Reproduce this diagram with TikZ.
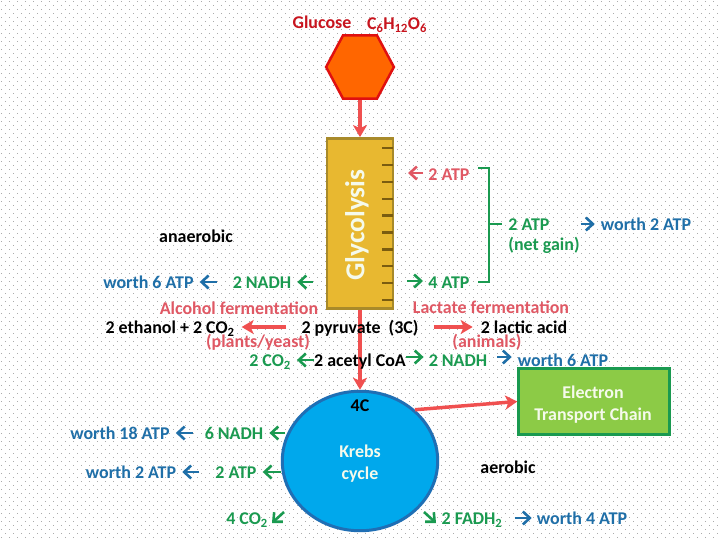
\documentclass[tikz,border=0pt]{standalone}
\usepackage{fontspec}
\setmainfont{Carlito}
\usetikzlibrary{positioning,shapes.geometric,arrows.meta,calc}
\definecolor{bluetxt}{RGB}{31,111,168}
\definecolor{greentxt}{RGB}{26,154,80}
\definecolor{pinktxt}{RGB}{224,88,100}
\definecolor{redline}{RGB}{240,80,80}
\definecolor{darkred}{RGB}{200,20,30}
\definecolor{hexfill}{RGB}{255,102,0}
\definecolor{hexline}{RGB}{224,16,16}
\definecolor{barfill}{RGB}{232,184,48}
\definecolor{barline}{RGB}{168,138,42}
\definecolor{tickcol}{RGB}{122,92,16}
\definecolor{krebsfill}{RGB}{0,168,236}
\definecolor{krebsline}{RGB}{31,111,181}
\definecolor{etcfill}{RGB}{140,203,70}
\definecolor{paleleaf}{RGB}{245,250,235}
\newcommand{\subtwo}{\textsubscript{2}}

\begin{document}
\begin{tikzpicture}[
    x=1bp, y=-1bp,
    lbl/.style={inner sep=0pt, text height=16pt, text depth=3pt, font=\fontsize{18}{21}\selectfont\bfseries},
    blacktxt/.style={lbl, text=black},
    bluelbl/.style={lbl, text=bluetxt},
    greenlbl/.style={lbl, text=greentxt},
    pinklbl/.style={lbl, text=pinktxt},
    redlbl/.style={lbl, text=darkred},
    whitelbl/.style={lbl, text=paleleaf},
    bigarrow/.style={draw=redline, line width=3.5pt, -{Stealth[length=12pt,width=14pt,inset=3pt]}},
    bluebarb/.style={draw=bluetxt, line width=2.6pt, -{Straight Barb[length=7pt,width=13pt]}},
    greenbarb/.style={draw=greentxt, line width=2.6pt, -{Straight Barb[length=7pt,width=13pt]}},
    pinkbarb/.style={draw=pinktxt, line width=2.6pt, -{Straight Barb[length=7pt,width=13pt]}},
    hexbox/.style={regular polygon, regular polygon sides=6, minimum size=68pt, yscale=1.08, transform shape, draw=hexline, fill=hexfill, line width=2.5pt, inner sep=0pt},
    barbox/.style={rectangle, draw=barline, fill=barfill, line width=2.5pt, minimum width=66pt, minimum height=171pt, inner sep=0pt},
    krebsbox/.style={ellipse, draw=krebsline, fill=krebsfill, line width=3pt, minimum width=156pt, minimum height=140pt, inner sep=0pt},
    etcbox/.style={rectangle, draw=greentxt, fill=etcfill, line width=3pt, minimum width=151pt, minimum height=66pt, inner sep=0pt}
]

\useasboundingbox (0,0) rectangle (720,540);
\fill[white] (0,0) rectangle (720,540);
% dotted paper
\foreach \row in {0,...,134} {
  \pgfmathsetmacro{\shift}{mod(\row,2)*4}
  \draw[black!33, line width=1bp, dash pattern=on 1bp off 7bp] ({\shift+1},{\row*4+1.5}) -- (720,{\row*4+1.5});
}

\node[hexbox] (glucosehex) at (360,67) {};
\node[barbox] (glybar) at (360,223.5) {};
\node[krebsbox] (krebs) at (360,461) {};
\node[etcbox] (etc) at (594,401.5) {};

\draw[bigarrow] (glucosehex) -- (glybar);
\draw[bigarrow] (glybar) -- (krebs);
\draw[bigarrow] (krebs.43) -- (etc.west);

\foreach \i in {0,...,9} {
  \draw[draw=tickcol, line width=2.4pt] (382,{148+\i*16.9}) -- (393,{148+\i*16.9});
}
\node[whitelbl, rotate=90, font=\fontsize{27.5}{30}\selectfont\bfseries] (glylbl) at (358,225) {Glycolysis};

\node[redlbl] (glucose) at (322,22) {Glucose};
\node[redlbl] (formula) at (397,23) {C\textsubscript{6}H\textsubscript{12}O\textsubscript{6}};

% top right
\node[pinklbl] (atpin) at (449,174) {2 ATP};
\node[greenlbl] (atpout) at (449,282) {4 ATP};
\coordinate (atpinfrom) at (423,173);
\coordinate (atpinto) at (408,173);
\coordinate (atpoutfrom) at (407,281);
\coordinate (atpoutto) at (423,281);
\draw[pinkbarb] (atpinfrom) -- (atpinto);
\draw[greenbarb] (atpoutfrom) -- (atpoutto);
\node[greenlbl] (netatp) at (529,224) {2 ATP};
\node[greenlbl, below=1pt of netatp.south west, anchor=north west] (netgain) {(net gain)};
\node[bluelbl] (worthnet) at (646,224) {worth 2 ATP};
\draw[bluebarb, shorten <=31pt, shorten >=6pt] (netatp) -- (worthnet);
\coordinate (bracktop) at (478,168);
\coordinate (brackbot) at (478,282);
\coordinate (brackmid) at (489,224);
\draw[greentxt, line width=2.3pt] (bracktop) -| (brackmid) |- (brackbot);
\draw[greentxt, line width=2.3pt, shorten >=6pt] (brackmid) -- (netatp);

% left side
\node[blacktxt] (anaerobic) at (196,236) {anaerobic};
\node[greenlbl] (nadhleft) at (262,282) {2 NADH};
\node[bluelbl, left=39pt of nadhleft] (worthleft) {worth 6 ATP};
\coordinate (nadhleftfrom) at (313,282);
\draw[greenbarb, shorten >=6pt] (nadhleftfrom) -- (nadhleft);
\draw[bluebarb, shorten <=16pt, shorten >=6pt] (nadhleft) -- (worthleft);
\node[pinklbl] (alcohol) at (239,308) {Alcohol fermentation};
\node[pinklbl] (lactate) at (491,307) {Lactate fermentation};

% pyruvate row
\node[blacktxt] (pyruvate) at (360,327) {2 pyruvate\ \ (3C)};
\node[blacktxt] (ethanol) at (170,327) {2 ethanol + 2 CO\subtwo};
\node[blacktxt] (lactic) at (524,327) {2 lactic acid};
\draw[bigarrow, shorten <=15pt, shorten >=7pt] (pyruvate) -- (ethanol);
\draw[bigarrow, shorten <=15pt, shorten >=8pt] (pyruvate) -- (lactic);
\node[pinklbl] (plants) at (258,341) {(plants/yeast)};
\node[pinklbl] (animals) at (487,341) {(animals)};

% acetyl row
\node[blacktxt] (acetyl) at (360,360) {2 acetyl CoA};
\node[greenlbl] (coleft) at (270,360) {2 CO\subtwo};
\node[greenlbl] (nadhright) at (458,360) {2 NADH};
\node[bluelbl] (worthright) at (563,360) {worth 6 ATP};
\draw[greenbarb, shorten >=6pt] (acetyl) -- (coleft);
\draw[greenbarb, shorten >=5pt] ([yshift=3pt]acetyl.east) -- ([yshift=3pt]nadhright.west);
\draw[bluebarb] ([xshift=10pt,yshift=3pt]nadhright.east) -- ([xshift=-6pt,yshift=3pt]worthright.west);

% krebs
\node[blacktxt] (fourc) at (360,405) {4C};
\node[whitelbl] (krebslbl) at (360,451) {Krebs};
\node[whitelbl, below=3pt of krebslbl] (cyclelbl) {cycle};
\node[whitelbl] (etclbl) at (593,392) {Electron};
\node[whitelbl, below=3pt of etclbl] (etclbltwo) {Transport Chain};

\node[greenlbl] (nadhsix) at (234,433) {6 NADH};
\node[bluelbl] (worthsix) at (120,433) {worth 18 ATP};
\coordinate (nadhsixfrom) at (285,433);
\draw[greenbarb, shorten >=6pt] (nadhsixfrom) -- (nadhsix);
\draw[bluebarb, shorten <=12pt, shorten >=6pt] (nadhsix) -- (worthsix);
\node[greenlbl] (atptwo) at (236,472) {2 ATP};
\node[bluelbl] (worthtwo) at (131,472) {worth 2 ATP};
\coordinate (atptwofrom) at (281,472);
\draw[greenbarb, shorten >=6pt] (atptwofrom) -- (atptwo);
\draw[bluebarb, shorten <=16pt, shorten >=6pt] (atptwo) -- (worthtwo);
\node[greenlbl] (cofour) at (247,518) {4 CO\subtwo};
\coordinate (cofourfrom) at (284,512);
\coordinate (cofourto) at (272,523);
\draw[greenbarb] (cofourfrom) -- (cofourto);

\node[blacktxt] (aerobic) at (508,467) {aerobic};
\node[greenlbl] (fadh) at (472,518) {2 FADH\subtwo};
\node[bluelbl] (worthfour) at (582,518) {worth 4 ATP};
\coordinate (fadhfrom) at (424,512);
\coordinate (fadhto) at (436,523);
\draw[greenbarb] (fadhfrom) -- (fadhto);
\draw[bluebarb, shorten <=12pt, shorten >=5pt] (fadh) -- (worthfour);

\end{tikzpicture}
\end{document}
